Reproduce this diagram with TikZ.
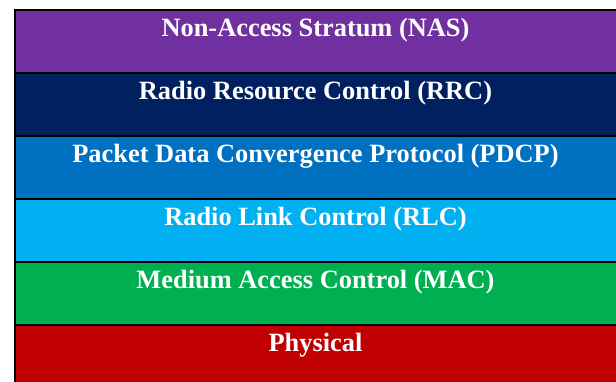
\documentclass[tikz,border=0pt]{standalone}
\usepackage{fontspec}
\setmainfont{Liberation Serif}
\usepackage{tikz}
\usetikzlibrary{positioning}
\definecolor{naspurple}{HTML}{7030A0}
\definecolor{rrcnavy}{HTML}{002060}
\definecolor{pdcpblue}{HTML}{0070C0}
\definecolor{rlccyan}{HTML}{00B0F0}
\definecolor{macgreen}{HTML}{00B050}
\definecolor{phyred}{HTML}{C00000}
\tikzset{layer/.style={draw=black, line width=2bp, outer sep=0pt, inner xsep=0pt, inner ysep=0pt,
    minimum width=610bp, text height=26bp, text depth=37bp, text=white,
    execute at begin node={\hspace*{-9bp}},
    font=\bfseries\fontsize{26.5}{30}\selectfont}}

\begin{document}
\begin{tikzpicture}[x=1bp,y=-1bp]
    \path[use as bounding box, clip] (0,0) rectangle (616,381);
    \node[layer, fill=naspurple, anchor=north west] (nas) at (15,10) {Non-Access Stratum (NAS)};
    \node[layer, fill=rrcnavy, below=0pt of nas] (rrc) {Radio Resource Control (RRC)};
    \node[layer, fill=pdcpblue, below=0pt of rrc] (pdcp) {Packet Data Convergence Protocol (PDCP)};
    \node[layer, fill=rlccyan, below=0pt of pdcp] (rlc) {Radio Link Control (RLC)};
    \node[layer, fill=macgreen, below=0pt of rlc] (mac) {Medium Access Control (MAC)};
    \node[layer, fill=phyred, below=0pt of mac] (phy) {Physical};
\end{tikzpicture}
\end{document}
